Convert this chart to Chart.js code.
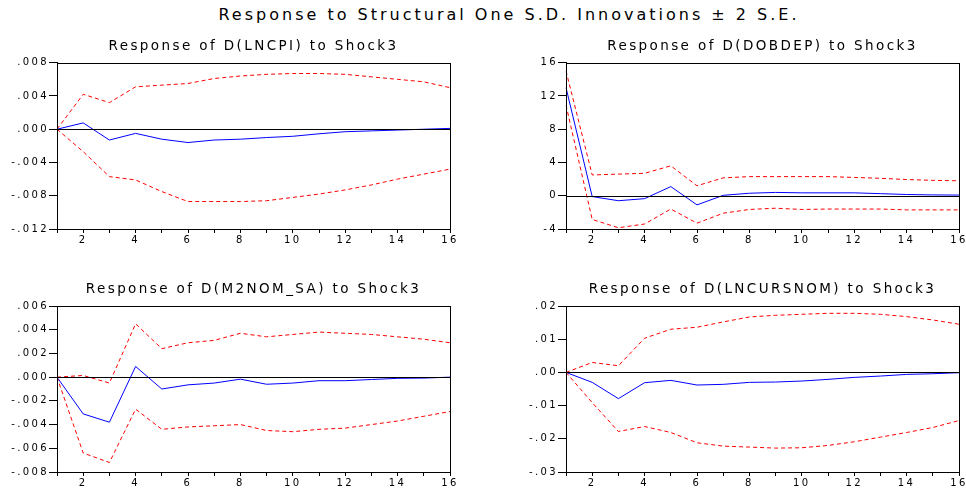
<!DOCTYPE html>
<html>
<head>
<meta charset="utf-8">
<title>Impulse responses to Shock3</title>
<script src="https://cdn.jsdelivr.net/npm/chart.js@4/dist/chart.umd.min.js"></script>
<style>
  body {
    margin: 0;
    width: 966px;
    height: 489px;
    overflow: hidden;
    position: relative;
    background: #fff;
    font-family: "DejaVu Sans", "Liberation Sans", Arial, sans-serif;
  }
  #mainTitle {
    position: absolute;
    left: 509px;
    top: 5px;
    transform: translateX(-50%);
    white-space: nowrap;
    font-size: 16px;
    letter-spacing: 3px;
    color: #000;
  }
  canvas { position: absolute; }
</style>
</head>
<body>
<div id="mainTitle">Response to Structural One S.D. Innovations ± 2 S.E.</div>
<canvas id="cpiChart" width="483" height="220" style="left:0;top:30px"></canvas>
<canvas id="depChart" width="500" height="220" style="left:483px;top:30px"></canvas>
<canvas id="m2Chart" width="483" height="215" style="left:0;top:274px"></canvas>
<canvas id="fxChart" width="500" height="215" style="left:483px;top:274px"></canvas>
<script>
// horizon (periods after the shock)
const periods = [1, 2, 3, 4, 5, 6, 7, 8, 9, 10, 11, 12, 13, 14, 15, 16];

// D(LNCPI)
const cpiResp  = [0, 0.00076, -0.0013, -0.0005, -0.0012, -0.0016, -0.0013, -0.0012, -0.001, -0.00085, -0.00055, -0.0003, -0.0002, -0.0001, 0, 0.0001];
const cpiUpper = [0, 0.0042, 0.0032, 0.0051, 0.0053, 0.0055, 0.0061, 0.0064, 0.0066, 0.0067, 0.0067, 0.0066, 0.0063, 0.006, 0.0057, 0.005];
const cpiLower = [0, -0.0027, -0.0057, -0.0061, -0.0075, -0.0087, -0.0087, -0.0087, -0.0086, -0.0082, -0.0078, -0.0073, -0.0067, -0.006, -0.0054, -0.0048];

// D(DOBDEP)
const depResp  = [13.0, -0.1, -0.6, -0.35, 1.1, -1.1, 0.05, 0.3, 0.4, 0.35, 0.35, 0.35, 0.25, 0.15, 0.1, 0.08];
const depUpper = [15.0, 2.5, 2.6, 2.7, 3.6, 1.2, 2.15, 2.3, 2.3, 2.3, 2.3, 2.2, 2.1, 1.95, 1.85, 1.8];
const depLower = [10.9, -2.85, -3.85, -3.4, -1.6, -3.3, -2.1, -1.65, -1.5, -1.65, -1.6, -1.6, -1.6, -1.7, -1.7, -1.7];

// D(M2NOM_SA)
const m2Resp  = [0, -0.0031, -0.0038, 0.0009, -0.001, -0.00065, -0.0005, -0.00017, -0.0006, -0.0005, -0.0003, -0.0003, -0.0002, -0.0001, -0.00008, 0];
const m2Upper = [0, 0.00014, -0.0005, 0.0045, 0.0024, 0.0029, 0.0031, 0.0037, 0.0034, 0.0036, 0.0038, 0.0037, 0.0036, 0.0034, 0.0032, 0.0029];
const m2Lower = [0, -0.0064, -0.0072, -0.0027, -0.0044, -0.0042, -0.0041, -0.004, -0.0045, -0.0046, -0.0044, -0.0043, -0.004, -0.0037, -0.0033, -0.0029];

// D(LNCURSNOM)
const fxResp  = [0, -0.003, -0.0079, -0.0031, -0.0024, -0.0038, -0.0036, -0.003, -0.0029, -0.0026, -0.0021, -0.0015, -0.0011, -0.0006, -0.0004, -0.0001];
const fxUpper = [0, 0.003, 0.002, 0.0103, 0.013, 0.0136, 0.0152, 0.0167, 0.0172, 0.0175, 0.0178, 0.0178, 0.0175, 0.0168, 0.0158, 0.0145];
const fxLower = [0, -0.0091, -0.0178, -0.0163, -0.0181, -0.0212, -0.0222, -0.0225, -0.0228, -0.0227, -0.022, -0.0209, -0.0195, -0.0181, -0.0166, -0.0145];

const FONT = '"DejaVu Sans", "Liberation Sans", Arial, sans-serif';

// eviews style tick text: .004, -.008, .00
function decimals(n) {
  return v => {
    const s = Math.abs(v).toFixed(n).replace(/^0/, '');
    return (v < -1e-9 ? '-' : '') + s;
  };
}

// wide text spacing, box round the plot, zero line
const framePlugin = {
  id: 'frame',
  beforeDraw(chart) {
    chart.ctx.letterSpacing = '2.4px';
  },
  afterDatasetsDraw(chart) {
    const { ctx, chartArea: a, scales } = chart;
    const y0 = scales.y.getPixelForValue(0);
    ctx.save();
    ctx.strokeStyle = '#000';
    ctx.lineWidth = 1;
    ctx.beginPath();
    ctx.moveTo(a.left, Math.round(y0) + 0.5);
    ctx.lineTo(a.right, Math.round(y0) + 0.5);
    ctx.stroke();
    ctx.strokeRect(Math.round(a.left) + 0.5, Math.round(a.top) + 0.5,
      Math.round(a.right - a.left), Math.round(a.bottom - a.top));
    ctx.restore();
  }
};

function makePanel(id, title, resp, upper, lower, yMin, yMax, yStep, fmt, box) {
  const band = (data) => ({
    data, borderColor: '#ff0000', borderWidth: 1, borderDash: [4, 3],
    pointRadius: 0, tension: 0, fill: false
  });
  new Chart(document.getElementById(id), {
    type: 'line',
    data: {
      labels: periods,
      datasets: [
        band(upper),
        band(lower),
        { data: resp, borderColor: '#0000ff', borderWidth: 1, pointRadius: 0, tension: 0, fill: false }
      ]
    },
    options: {
      responsive: false,
      animation: false,
      events: [],
      layout: { padding: { left: 0, right: box.right, top: 0, bottom: 0 } },
      plugins: {
        legend: { display: false },
        tooltip: { enabled: false },
        title: {
          display: true,
          text: title,
          fullSize: false,
          color: '#000',
          font: { family: FONT, size: 13.5, weight: 'normal' },
          padding: { top: box.titleTop, bottom: box.titleBottom }
        }
      },
      scales: {
        x: {
          afterFit: s => { s.height = box.xHeight; },
          grid: { drawOnChartArea: false, tickLength: 4, color: '#000' },
          border: { color: '#000' },
          ticks: {
            autoSkip: false, maxRotation: 0, padding: 1, color: '#000',
            font: { family: FONT, size: 10 },
            callback: (v, i) => (periods[i] % 2 === 0 ? String(periods[i]) : '')
          }
        },
        y: {
          min: yMin, max: yMax,
          afterFit: s => { s.width = box.yWidth; },
          grid: { drawOnChartArea: false, tickLength: 8, color: '#000' },
          border: { color: '#000' },
          ticks: {
            stepSize: yStep, padding: 0, color: '#000',
            font: { family: FONT, size: 10 },
            callback: fmt
          }
        }
      }
    },
    plugins: [framePlugin]
  });
}

const topRow = { titleTop: 7.9, titleBottom: 8.6, xHeight: 21 };
const bottomRow = { titleTop: 7.4, titleBottom: 8.4, xHeight: 17 };

makePanel('cpiChart', 'Response of D(LNCPI) to Shock3', cpiResp, cpiUpper, cpiLower,
  -0.012, 0.008, 0.004, decimals(3), Object.assign({ yWidth: 57, right: 33 }, topRow));
makePanel('depChart', 'Response of D(DOBDEP) to Shock3', depResp, depUpper, depLower,
  -4, 16, 4, v => String(Math.round(v)), Object.assign({ yWidth: 83, right: 24 }, topRow));
makePanel('m2Chart', 'Response of D(M2NOM_SA) to Shock3', m2Resp, m2Upper, m2Lower,
  -0.008, 0.006, 0.002, decimals(3), Object.assign({ yWidth: 57, right: 33 }, bottomRow));
makePanel('fxChart', 'Response of D(LNCURSNOM) to Shock3', fxResp, fxUpper, fxLower,
  -0.03, 0.02, 0.01, decimals(2), Object.assign({ yWidth: 83, right: 24 }, bottomRow));
</script>
</body>
</html>
